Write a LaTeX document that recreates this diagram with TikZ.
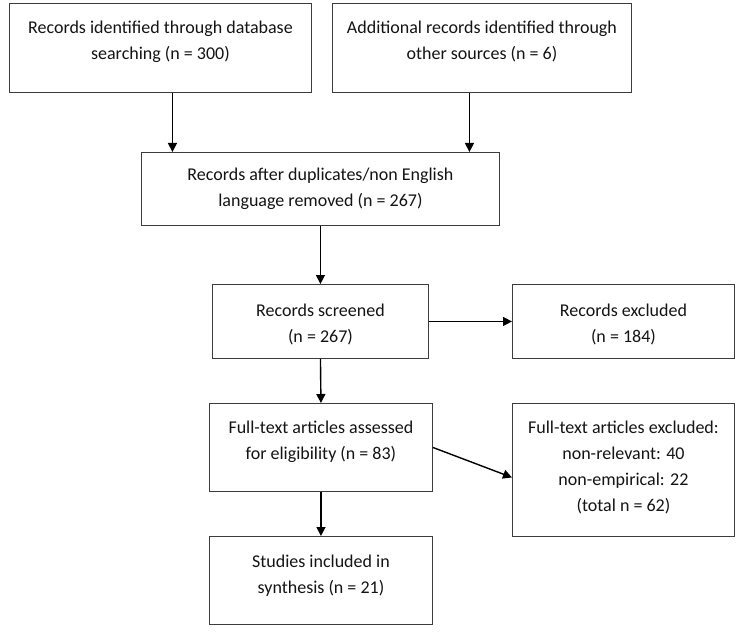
\documentclass[tikz,border=0pt]{standalone}
\usepackage{fontspec}
\setmainfont{Carlito}
\usetikzlibrary{arrows.meta}
\definecolor{boxline}{HTML}{3C3C3C}
\definecolor{txt}{HTML}{141414}
\newcommand{\prismatext}[4]{\parbox[c][#2][t]{#1}{\centering\fontsize{18}{26}\selectfont\color{txt}\rule{0pt}{#3}#4}}
\tikzset{
  pbox/.style={draw=boxline, line width=0.9pt, inner sep=0pt, anchor=north west, fill=white},
  arr/.style={draw=black, line width=1.4pt, -{Triangle[length=9pt,width=9pt]}}
}
\begin{document}
\begin{tikzpicture}[x=1pt,y=-1pt]
\useasboundingbox (0,0) rectangle (743,631);
\node[pbox] (b1) at (9,3) {\prismatext{302pt}{89pt}{30pt}{Records identified through database\\searching (n = 300)}};
\node[pbox] (b2) at (332,3) {\prismatext{299pt}{89pt}{30pt}{Additional records identified through\\other sources (n = 6)}};
\node[pbox] (b3) at (141,152) {\prismatext{358pt}{73pt}{28pt}{Records after duplicates/non English\\language removed (n = 267)}};
\node[pbox] (b4) at (212,284) {\prismatext{216pt}{74pt}{32pt}{Records screened\\(n = 267)}};
\node[pbox] (b5) at (512,284) {\prismatext{222pt}{74pt}{32pt}{Records excluded\\(n = 184)}};
\node[pbox] (b6) at (209,403) {\prismatext{223pt}{88pt}{30pt}{Full-text articles assessed\\for eligibility (n = 83)}};
\node[pbox] (b7) at (512,403) {\prismatext{222pt}{133pt}{30pt}{Full-text articles excluded:\\non-relevant: 40\\non-empirical: 22\\(total n = 62)}};
\node[pbox] (b8) at (209,536) {\prismatext{223pt}{88pt}{31pt}{Studies included in\\synthesis (n = 21)}};
\draw[arr] ([xshift=-148pt]b3.north |- b1.south) -- ([xshift=-148pt]b3.north);
\draw[arr] ([xshift=149pt]b3.north |- b2.south) -- ([xshift=149pt]b3.north);
\draw[arr] (b3.south) -- (b4.north);
\draw[arr] (b4.east) -- (b5.west);
\draw[arr] (b4.south) -- (b6.north);
\draw[arr] (b6.east) -- ([yshift=-7.5pt]b7.west);
\draw[arr] (b6.south) -- (b8.north);
\end{tikzpicture}
\end{document}
